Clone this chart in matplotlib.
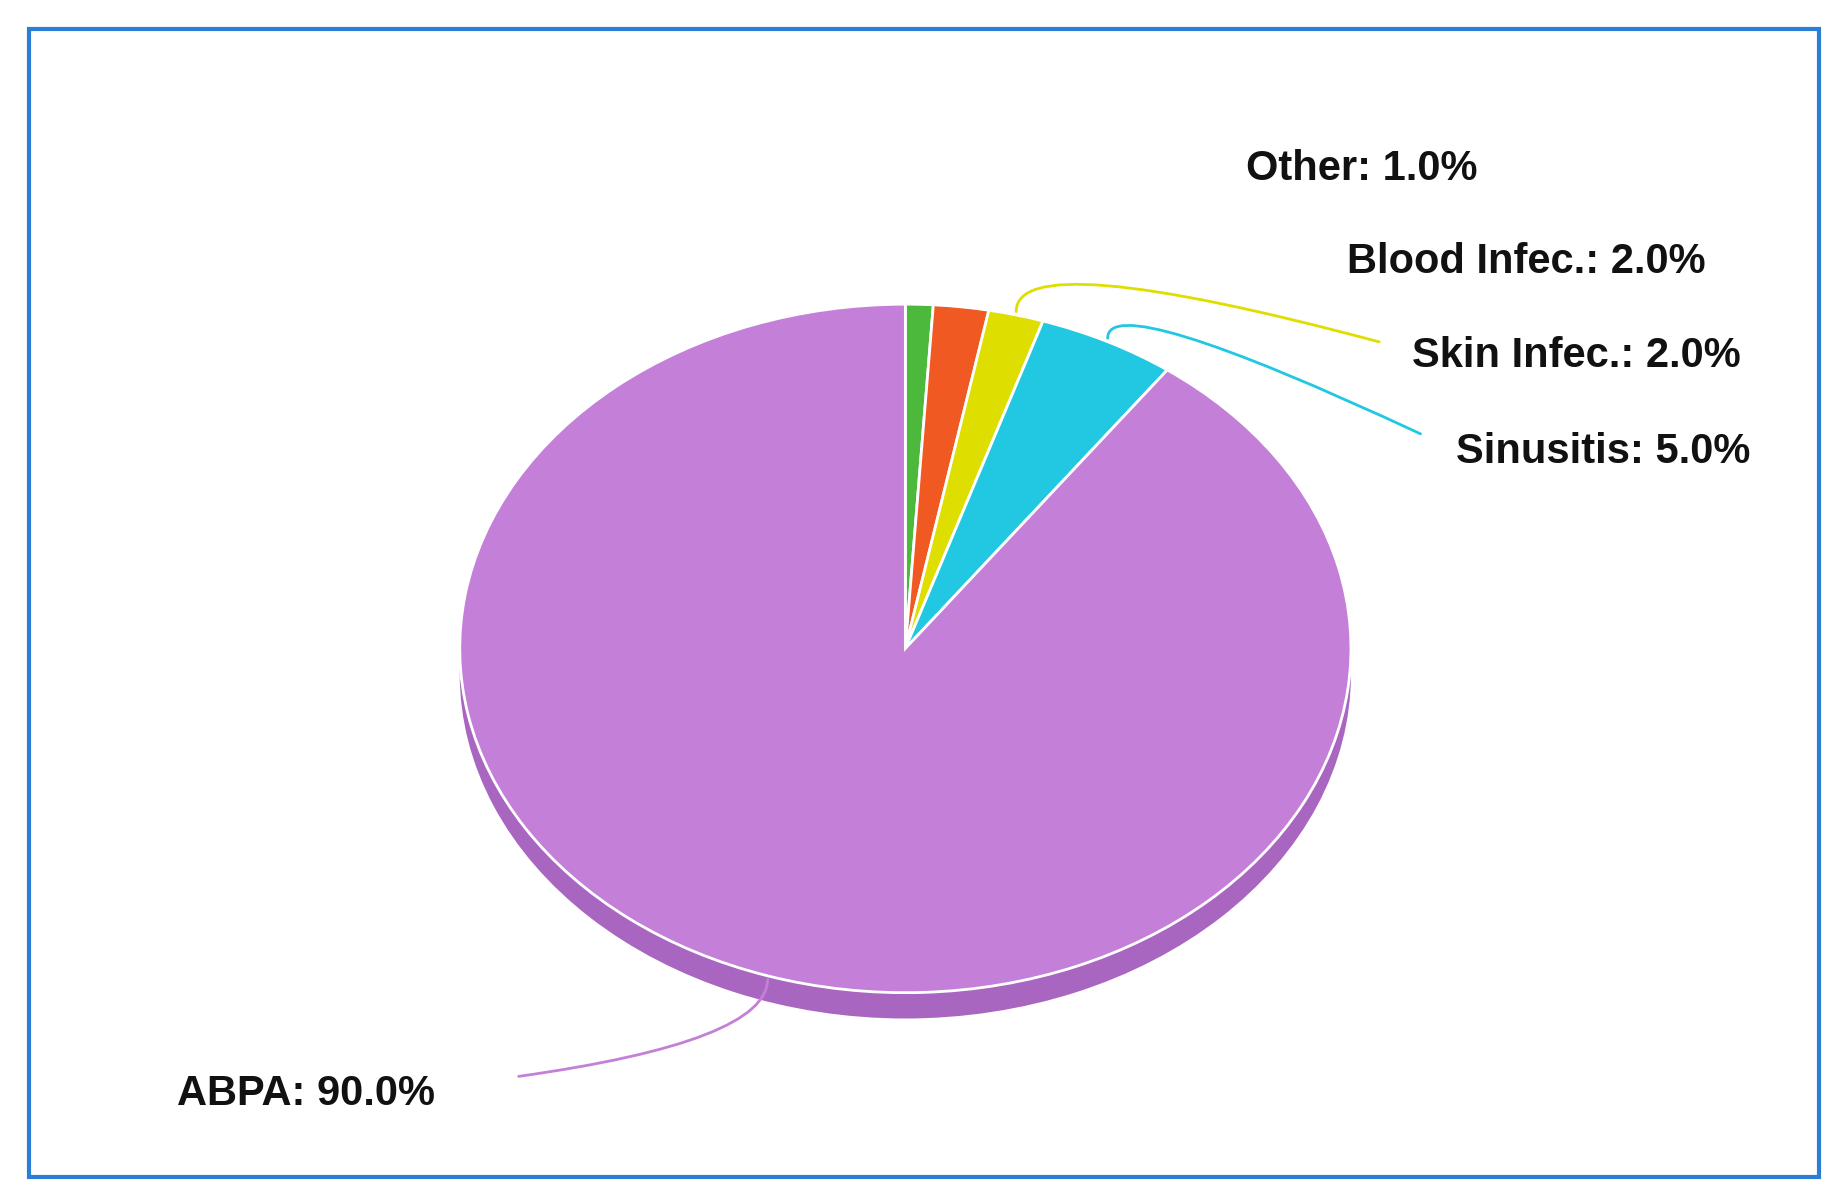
import matplotlib
matplotlib.use("Agg")
import matplotlib.pyplot as plt
import numpy as np
from matplotlib.patches import Rectangle

labels = ["Other", "Blood Infec.", "Skin Infec.", "Sinusitis", "ABPA"]
values = [1.0, 2.0, 2.0, 5.0, 90.0]
colors = ["#4cb83c", "#f05a22", "#dede00", "#22c8e2", "#c47fd9"]

W, H = 1560.0, 1017.0  # reference display coords
fig = plt.figure(figsize=(18.39, 11.99), dpi=100)
fig.patches.append(Rectangle((25/W, 1-998/H), (1543-25)/W, (998-25)/H, transform=fig.transFigure,
                             fill=False, edgecolor="#2a7fd4", linewidth=3))

cx, cy, rx, ry = 768, 550, 378, 292
ylo = -1.12
left = (cx-rx)/W
width = 2*rx/W
top = 1-(cy-ry)/H
height = ry*(1-ylo)/H
ax = fig.add_axes([left, top-height, width, height])
# shadow
ax.pie([1], colors=["#a966c0"], radius=1, center=(0, -0.075), startangle=90,
       wedgeprops=dict(linewidth=0))
ax.pie(values, colors=colors, startangle=90, counterclock=False,
       wedgeprops=dict(edgecolor="white", linewidth=2))
ax.set_aspect("auto")
ax.set_xlim(-1, 1)
ax.set_ylim(ylo, 1)
ax.axis("off")

text_pos = [(1057, 143), (1143, 222), (1198, 302), (1235, 383), (150, 928)]
line_end = [(1030, 127), (1115, 208), (1170, 290), (1205, 368), (440, 913)]
angleA = [15, 0, -15, -25, 8]

cum = 0
for i, (lab, v, c) in enumerate(zip(labels, values, colors)):
    mid = 90 - (cum + v/2) * 3.6
    cum += v
    th = np.deg2rad(mid)
    r = 1.0
    px, py = r*np.cos(th), r*np.sin(th)
    if lab != "ABPA":
        py += 0.01
    else:
        py -= 0.01
    ex, ey = line_end[i]
    ax.annotate("", xy=(px, py), xycoords="data",
                xytext=(ex/W, 1-ey/H), textcoords="figure fraction",
                arrowprops=dict(arrowstyle="-", color=c, lw=2, shrinkA=0, shrinkB=0,
                                connectionstyle=f"angle3,angleA={angleA[i]},angleB=90"))
    tx, ty = text_pos[i]
    fig.text(tx/W, 1-ty/H, f"{lab}: {v:.1f}%", fontsize=30, fontweight="bold",
             family="Liberation Sans", ha="left", va="center", color="#111111")

fig.savefig("out.png", dpi=100, facecolor="white")
